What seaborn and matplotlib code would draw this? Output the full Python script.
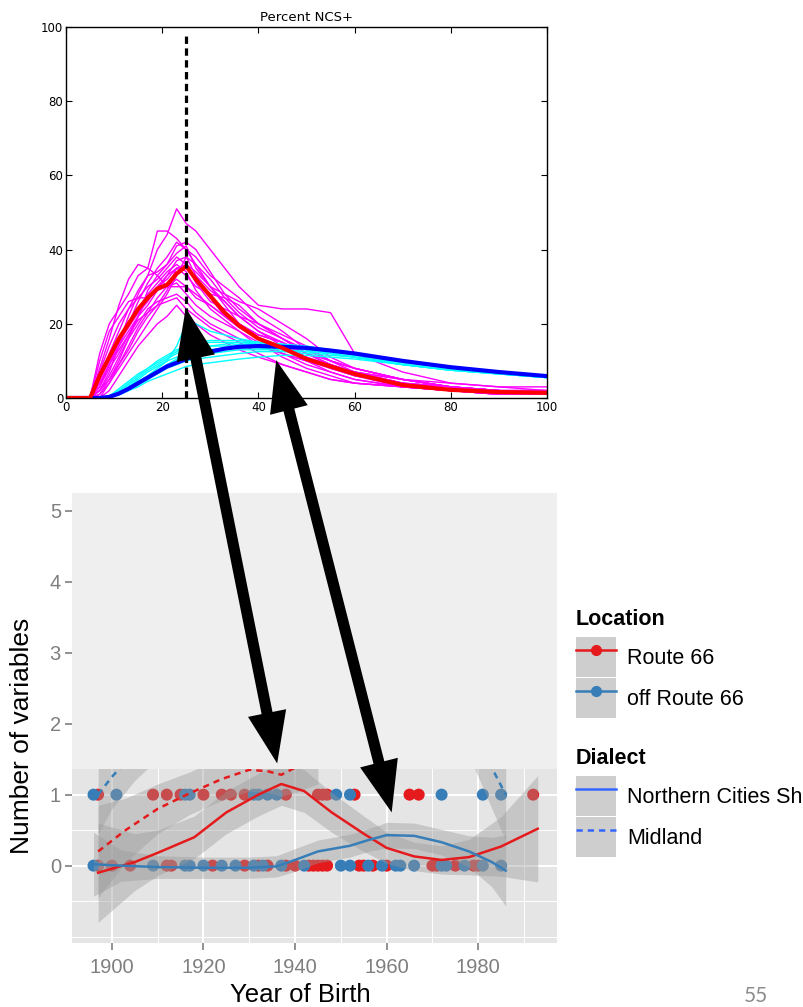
import numpy as np
import pandas as pd
import seaborn as sns
import matplotlib.pyplot as plt
from matplotlib.patches import ConnectionPatch, Patch
from matplotlib.lines import Line2D
from matplotlib.legend_handler import HandlerTuple
from matplotlib.ticker import FixedLocator

plt.rcParams['font.family'] = ['Liberation Sans', 'DejaVu Sans']

# ---------------- top chart: simulation runs, percent NCS+ by age ----------------
age = [0, 5, 7, 9, 11, 13, 15, 17, 19, 21, 23, 25, 27, 30, 33, 36, 40, 45, 50, 55, 60, 70, 80, 90, 100]

magenta_runs = [
    [0, 0, 4, 9, 15, 22, 28, 33, 40, 44, 51, 47, 45, 40, 35, 30, 25, 24, 24, 23, 12, 7, 4, 3, 2],
    [0, 0, 8, 16, 25, 32, 36, 35, 45, 45, 43, 40, 38, 33, 30, 27, 22, 18, 13, 10, 7, 5, 3, 2, 1],
    [0, 0, 2, 7, 14, 20, 26, 31, 35, 38, 42, 40, 36, 30, 26, 22, 18, 14, 11, 8, 6, 4, 2, 1, 1],
    [0, 0, 6, 12, 18, 24, 29, 33, 34, 36, 39, 41, 35, 30, 25, 20, 17, 15, 12, 9, 7, 4, 3, 2, 2],
    [0, 0, 1, 5, 10, 16, 22, 27, 30, 33, 37, 38, 33, 27, 22, 19, 16, 12, 9, 7, 5, 3, 2, 2, 1],
    [0, 0, 10, 18, 22, 26, 27, 30, 32, 35, 38, 36, 31, 26, 24, 22, 20, 16, 12, 9, 6, 3, 2, 1, 1],
    [0, 0, 3, 9, 14, 18, 22, 25, 29, 33, 35, 33, 30, 28, 27, 25, 20, 17, 14, 10, 8, 5, 3, 2, 1],
    [0, 0, 5, 11, 16, 20, 24, 28, 31, 34, 36, 34, 29, 24, 21, 18, 14, 12, 10, 7, 5, 3, 2, 1, 1],
    [0, 0, 0, 4, 9, 14, 19, 23, 27, 30, 32, 30, 27, 25, 22, 20, 17, 15, 11, 8, 6, 4, 2, 2, 2],
    [0, 0, 7, 14, 20, 24, 27, 27, 29, 30, 31, 28, 25, 22, 20, 18, 15, 11, 8, 6, 4, 3, 2, 1, 1],
    [0, 0, 2, 6, 11, 16, 20, 24, 26, 27, 28, 26, 23, 20, 18, 16, 14, 12, 10, 8, 7, 5, 4, 3, 3],
    [0, 0, 4, 9, 13, 17, 21, 23, 25, 26, 27, 24, 22, 19, 17, 15, 12, 9, 7, 5, 4, 3, 2, 1, 1],
    [0, 0, 0, 2, 6, 10, 14, 17, 20, 22, 25, 22, 20, 17, 15, 13, 11, 9, 7, 5, 4, 3, 2, 2, 1],
    [0, 0, 12, 20, 24, 28, 33, 35, 33, 30, 30, 30, 28, 25, 22, 19, 16, 14, 11, 9, 7, 4, 3, 2, 2],
    [0, 0, 1, 4, 8, 12, 16, 20, 24, 28, 33, 38, 36, 32, 27, 23, 19, 16, 12, 10, 8, 5, 3, 2, 1],
    [0, 0, 3, 8, 12, 17, 22, 29, 33, 36, 41, 42, 40, 34, 28, 24, 20, 16, 13, 10, 8, 5, 3, 2, 2],
    [0, 0, 2, 5, 9, 13, 18, 22, 25, 29, 35, 36, 34, 30, 28, 26, 24, 20, 16, 11, 8, 5, 3, 2, 1],
    [0, 0, 5, 10, 15, 19, 23, 26, 30, 32, 35, 35, 33, 29, 26, 22, 18, 15, 12, 9, 7, 4, 3, 2, 1],
]

cyan_runs = [
    [0, 0, 0, 0.5, 1.5, 3, 4.5, 6, 8, 10, 14, 20, 20, 18, 17, 16, 15, 14, 13, 12, 11, 9, 7.5, 6.5, 5.5],
    [0, 0, 0, 0.5, 2, 4, 6, 8, 10, 11.5, 13, 14, 15, 15.5, 15.5, 15.5, 15, 14.5, 13.5, 12.5, 11.5, 9.5, 8, 7, 6],
    [0, 0, 0, 0.3, 1, 2.5, 4, 5.5, 7, 9, 10.5, 12, 13, 14, 14.5, 15, 15, 14.5, 14, 13, 12, 10, 8.5, 7, 6],
    [0, 0, 0, 0.5, 1.5, 3, 5, 7, 8.5, 10, 11, 12, 12.5, 13, 13.5, 13.5, 13.5, 13, 12.5, 12, 11, 9, 7.5, 6.5, 5.5],
    [0, 0, 0, 0.2, 0.8, 2, 3, 4.5, 5.5, 6.5, 7.5, 8.5, 9, 9.5, 10, 10.5, 11, 11.5, 11.5, 11, 10.5, 9, 7.5, 6.5, 5.5],
    [0, 0, 0, 0.5, 2, 3.5, 5.5, 7.5, 9, 10.5, 12, 13, 13.5, 14, 14, 14.5, 14.5, 14, 13.5, 13, 12, 10, 8, 7, 6],
    [0, 0, 0, 0.3, 1.2, 2.5, 4, 6, 7.5, 9, 10, 11, 11.5, 12, 12.5, 13, 13, 13, 12.5, 12, 11, 9.5, 8, 6.5, 5.5],
    [0, 0, 0, 0.5, 2.5, 4.5, 6.5, 8, 9.5, 11, 12.5, 14, 14.5, 15, 15, 15, 14.5, 14, 13, 12.5, 11.5, 10, 8.5, 7, 6],
    [0, 0, 0, 0.3, 1, 2, 3.5, 5, 6.5, 8, 9, 10, 10.5, 11, 11.5, 12, 12.5, 12.5, 12, 11.5, 11, 9, 7.5, 6.5, 5.5],
]

red_mean = [0, 0, 6, 11, 16, 20, 24, 27, 29.5, 30.5, 33.5, 35.5, 32, 27.5, 23, 19.5, 16, 13.5, 10.5, 8.5, 6.5, 3.5, 2.2, 1.6, 1.4]
blue_mean = [0, 0, 0, 0.3, 1.2, 2.5, 4, 5.5, 7, 8.5, 9.5, 10.5, 11.5, 12.5, 13.3, 13.8, 14, 13.8, 13.5, 12.8, 12, 10, 8.3, 7, 5.9]
peak_age = 25

# ---------------- bottom chart: number of variables by year of birth ----------------
r66_one = [1897, 1909, 1912, 1915, 1920, 1924, 1926, 1929, 1938, 1945, 1946, 1947, 1953, 1965, 1967, 1992]
off_one = [1896, 1901, 1916, 1917, 1931, 1932, 1934, 1936, 1949, 1952, 1972, 1981, 1985]
r66_zero = [1897, 1900, 1904, 1912, 1913, 1922, 1929, 1932, 1934, 1938, 1940, 1943, 1944, 1945,
            1946, 1947, 1954, 1955, 1957, 1960, 1970, 1971, 1975, 1979, 1980]
off_zero = [1896, 1909, 1916, 1917, 1920, 1924, 1927, 1931, 1933, 1937, 1942, 1950, 1952, 1956,
            1959, 1962, 1963, 1966, 1972, 1973, 1977, 1981, 1985]

# loess fits: Route 66 / off Route 66 x Northern Cities Shift / Midland
r_ncs_year = [1897, 1905, 1910, 1918, 1925, 1932, 1937, 1942, 1948, 1955, 1960, 1966, 1972, 1978, 1985, 1993]
r_ncs_fit = [-0.10, 0.05, 0.18, 0.40, 0.75, 1.00, 1.15, 1.05, 0.75, 0.45, 0.25, 0.13, 0.08, 0.12, 0.27, 0.52]
r_ncs_lo = [-0.80, -0.35, -0.14, 0.10, 0.45, 0.70, 0.85, 0.75, 0.47, 0.20, 0.03, -0.07, -0.12, -0.13, -0.15, -0.23]
r_ncs_hi = [0.60, 0.45, 0.50, 0.70, 1.05, 1.30, 1.45, 1.35, 1.03, 0.70, 0.47, 0.33, 0.28, 0.37, 0.69, 1.27]

b_ncs_year = [1896, 1902, 1910, 1920, 1930, 1936, 1940, 1945, 1952, 1956, 1960, 1966, 1972, 1978, 1983, 1986]
b_ncs_fit = [0.02, 0.00, -0.02, -0.03, -0.03, -0.01, 0.08, 0.20, 0.28, 0.36, 0.43, 0.42, 0.33, 0.20, 0.05, -0.07]
b_ncs_lo = [-0.43, -0.22, -0.18, -0.18, -0.18, -0.16, -0.08, 0.04, 0.12, 0.20, 0.25, 0.24, 0.15, -0.02, -0.30, -0.57]
b_ncs_hi = [0.47, 0.22, 0.14, 0.12, 0.12, 0.14, 0.24, 0.36, 0.44, 0.52, 0.61, 0.60, 0.51, 0.42, 0.40, 0.43]

r_mid_year = [1897, 1903, 1910, 1917, 1924, 1930, 1934, 1937, 1940, 1945]
r_mid_fit = [0.20, 0.50, 0.80, 1.02, 1.22, 1.35, 1.33, 1.28, 1.38, 1.60]
r_mid_lo = [-0.45, 0.05, 0.45, 0.72, 0.92, 1.05, 1.03, 0.98, 1.03, 1.15]
r_mid_hi = [0.85, 0.95, 1.15, 1.32, 1.52, 1.65, 1.63, 1.58, 1.73, 2.05]

b_mid_year = [1897, 1900, 1905, 1915, 1930, 1950, 1970, 1978, 1982, 1986]
b_mid_fit = [1.00, 1.25, 1.60, 2.20, 2.60, 2.70, 2.50, 2.00, 1.50, 1.00]
b_mid_lo = [0.45, 0.80, 1.20, 1.80, 2.20, 2.30, 2.10, 1.55, 0.95, 0.35]
b_mid_hi = [1.55, 1.70, 2.00, 2.60, 3.00, 3.10, 2.90, 2.45, 2.05, 1.65]

RED = '#E41A1C'
BLUE = '#377EB8'
NCS_BLUE = '#3366FF'

# ---------------- figure ----------------
fig = plt.figure(figsize=(8.04, 10.07), dpi=100)
ax1 = fig.add_axes([66 / 804, 1 - 398 / 1007, 481 / 804, 371 / 1007])
ax2 = fig.add_axes([72 / 804, 1 - 943 / 1007, 485 / 804, 450 / 1007])

runs = []
for i, vals in enumerate(magenta_runs):
    runs.append(pd.DataFrame({'age': age, 'pct': vals, 'run': f'm{i}', 'grp': 'ncs'}))
for i, vals in enumerate(cyan_runs):
    runs.append(pd.DataFrame({'age': age, 'pct': vals, 'run': f'c{i}', 'grp': 'mid'}))
runs = pd.concat(runs, ignore_index=True)

sns.lineplot(data=runs, x='age', y='pct', hue='grp', units='run', estimator=None,
             hue_order=['ncs', 'mid'], palette={'ncs': '#FF00FF', 'mid': '#00FFFF'},
             lw=1, legend=False, ax=ax1)
sns.lineplot(x=age, y=blue_mean, color='#0000FF', lw=3, ax=ax1)
sns.lineplot(x=age, y=red_mean, color='#FF0000', lw=3, ax=ax1)
ax1.axvline(peak_age, ymax=0.985, color='black', lw=2.3, ls=(0, (2.3, 1.4)), zorder=5)

ax1.set_xlim(0, 100)
ax1.set_ylim(0, 100)
ax1.set_xticks(range(0, 101, 20))
ax1.set_yticks(range(0, 101, 20))
ax1.tick_params(direction='in', top=True, right=True, length=4, labelsize=8.5, pad=2)
for lab in ax1.get_xticklabels() + ax1.get_yticklabels():
    lab.set_fontfamily('DejaVu Sans')
ax1.set_xlabel('')
ax1.set_ylabel('')
ax1.set_title('Percent NCS+', fontsize=9.5, family='DejaVu Sans', pad=4)
for sp in ax1.spines.values():
    sp.set_linewidth(1)

# bottom chart
pts = pd.DataFrame({
    'year': r66_one + off_one + r66_zero + off_zero,
    'n': [1] * (len(r66_one) + len(off_one)) + [0] * (len(r66_zero) + len(off_zero)),
    'loc': (['Route 66'] * len(r66_one) + ['off Route 66'] * len(off_one)
            + ['Route 66'] * len(r66_zero) + ['off Route 66'] * len(off_zero)),
})
ax2.set_facecolor('#E5E5E5')
sns.scatterplot(data=pts, x='year', y='n', hue='loc', palette={'Route 66': RED, 'off Route 66': BLUE},
                s=75, linewidth=0, legend=False, ax=ax2, zorder=2)

fits = []
for yr, fit, lo, hi, loc, dia in [
    (r_ncs_year, r_ncs_fit, r_ncs_lo, r_ncs_hi, 'Route 66', 'NCS'),
    (r_mid_year, r_mid_fit, r_mid_lo, r_mid_hi, 'Route 66', 'Midland'),
    (b_ncs_year, b_ncs_fit, b_ncs_lo, b_ncs_hi, 'off Route 66', 'NCS'),
    (b_mid_year, b_mid_fit, b_mid_lo, b_mid_hi, 'off Route 66', 'Midland'),
]:
    ax2.fill_between(yr, lo, hi, color='#999999', alpha=0.4, lw=0, zorder=3)
    fits.append(pd.DataFrame({'year': yr, 'fit': fit, 'loc': loc, 'dialect': dia}))
fits = pd.concat(fits, ignore_index=True)
sns.lineplot(data=fits, x='year', y='fit', hue='loc', style='dialect', units='dialect', estimator=None,
             palette={'Route 66': RED, 'off Route 66': BLUE},
             dashes={'NCS': '', 'Midland': (2.5, 2)}, lw=1.8, legend=False, ax=ax2, zorder=4)

# pale cover over the upper part of the panel, as on the slide
ax2.axhspan(1.36, 10, color='#EFEFEF', lw=0, zorder=5)

ax2.set_xlim(1891.3, 1997.2)
ax2.set_ylim(-1.09, 5.25)
ax2.xaxis.set_major_locator(FixedLocator([1900, 1920, 1940, 1960, 1980]))
ax2.xaxis.set_minor_locator(FixedLocator([1910, 1930, 1950, 1970, 1990]))
ax2.yaxis.set_major_locator(FixedLocator([0, 1, 2, 3, 4, 5]))
ax2.yaxis.set_minor_locator(FixedLocator([-1, -0.5, 0.5, 1.5, 2.5, 3.5, 4.5]))
ax2.set_axisbelow(True)
ax2.grid(which='major', color='white', lw=1.4)
ax2.grid(which='minor', color='white', lw=0.7)
for sp in ax2.spines.values():
    sp.set_visible(False)
ax2.tick_params(which='major', length=5, width=1.2, color='#7F7F7F', labelcolor='#7F7F7F',
                labelsize=14.5)
ax2.tick_params(axis='x', which='major', pad=6)
ax2.tick_params(axis='y', which='major', pad=3)
ax2.tick_params(which='minor', length=0)
ax2.set_xlabel('Year of Birth', fontsize=18.5, color='black')
ax2.set_ylabel('Number of variables', fontsize=19, color='black')
ax2.xaxis.set_label_coords(0.47, -0.09)
ax2.yaxis.set_label_coords(-0.078, 0.46)

# legends
key_bg = '#CECECE'
loc_handles = [
    (Patch(facecolor=key_bg, edgecolor='none'), Line2D([], [], color=RED, marker='o', ms=7, lw=1.8)),
    (Patch(facecolor=key_bg, edgecolor='none'), Line2D([], [], color=BLUE, marker='o', ms=7, lw=1.8)),
]
dia_handles = [
    (Patch(facecolor=key_bg, edgecolor='none'), Line2D([], [], color=NCS_BLUE, lw=1.8)),
    (Patch(facecolor=key_bg, edgecolor='none'), Line2D([], [], color=NCS_BLUE, lw=1.8, ls=(0, (2.5, 2)))),
]
leg_kw = dict(loc='upper left', frameon=False, fontsize=15.5, alignment='left',
              title_fontproperties={'weight': 'bold', 'size': 15.5},
              handlelength=1.86, handleheight=2.48, handletextpad=0.5, labelspacing=0.05,
              borderpad=0, borderaxespad=0, handler_map={tuple: HandlerTuple(ndivide=1)})
leg1 = fig.legend(loc_handles, ['Route 66', 'off Route 66'], title='Location',
                  bbox_to_anchor=(576 / 804, 1 - 609 / 1007), **leg_kw)
leg2 = fig.legend(dia_handles, ['Northern Cities Shift', 'Midland'], title='Dialect',
                  bbox_to_anchor=(576 / 804, 1 - 748 / 1007), **leg_kw)
for leg in (leg1, leg2):
    leg._legend_box.sep = 5

# double-headed arrows linking the two charts
links = [((24.9, 24.3), (1936.1, 1.44)), ((43.7, 10.2), (1961.1, 0.75))]
for pa, pb in links:
    shaft = ConnectionPatch(pa, pb, 'data', 'data', axesA=ax1, axesB=ax2, arrowstyle='-',
                            lw=8, color='black', shrinkA=20, shrinkB=20, zorder=20,
                            annotation_clip=False)
    heads = ConnectionPatch(pa, pb, 'data', 'data', axesA=ax1, axesB=ax2,
                            arrowstyle='<|-|>,head_length=3.7,head_width=1.4', mutation_scale=10,
                            lw=0, color='black', zorder=21, annotation_clip=False)
    fig.add_artist(shaft)
    fig.add_artist(heads)

fig.text(756 / 804, 1 - 996 / 1007, '55', ha='center', va='center', fontsize=15,
         color='#8C8C8C', family='Lato')

fig.savefig('out.png', dpi=100)
